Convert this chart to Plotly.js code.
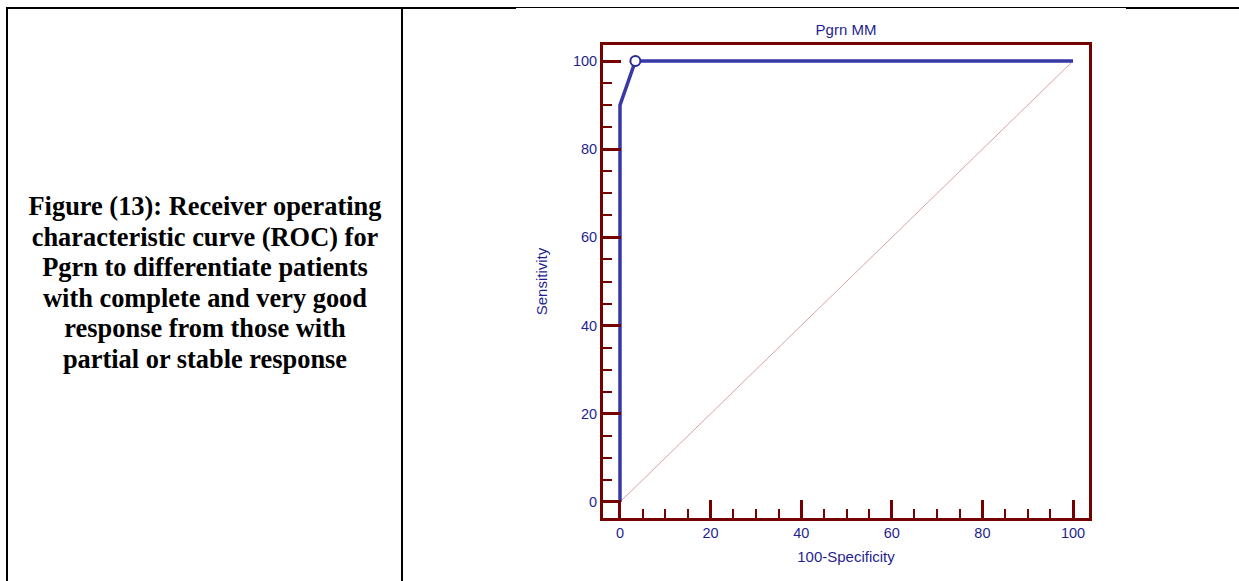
<!DOCTYPE html>
<html>
<head>
<meta charset="utf-8">
<script src="https://cdn.plot.ly/plotly-3.0.1.min.js"></script>
<style>
  html, body { margin: 0; padding: 0; background: #fff; }
  #wrap { position: relative; width: 1239px; height: 581px; overflow: hidden; }
  #chart { position: absolute; left: 0; top: 0; width: 1239px; height: 581px; }
  .ln { position: absolute; background: #000; }
  #caption {
    position: absolute; left: 8px; width: 394px; top: 191px;
    font-family: "Liberation Serif", "Times New Roman", serif;
    font-weight: bold; font-size: 26.4px; line-height: 30.6px;
    text-align: center; color: #000;
  }
</style>
</head>
<body>
<div id="wrap">
  <div id="chart"></div>
  <div class="ln" style="left:6px;top:7px;width:510px;height:2px;"></div>
  <div class="ln" style="left:516px;top:7px;width:610px;height:1px;"></div>
  <div class="ln" style="left:1126px;top:7px;width:113px;height:2px;"></div>
  <div class="ln" style="left:6px;top:7px;width:2px;height:574px;"></div>
  <div class="ln" style="left:401px;top:7px;width:2px;height:574px;"></div>
  <div id="caption">Figure (13): Receiver operating<br>characteristic curve (ROC) for<br>Pgrn to differentiate patients<br>with complete and very good<br>response from those with<br>partial or stable response</div>
</div>
<script>
// ROC curve data (100-Specificity vs Sensitivity)
var fpr = [0, 0, 3.4, 100];
var sensitivity = [0, 90, 100, 100];
// Criterion (optimal cut-off) point
var critX = [3.4];
var critY = [100];
// Reference diagonal
var diagX = [0, 100];
var diagY = [0, 100];
var tickVals = [0, 20, 40, 60, 80, 100];
var tickText = ['0', '20', '40', '60', '80', '100'];

var frameColor = '#740000';
var textColor = '#1f1f8f';
var fontFam = 'Liberation Sans, Arial, sans-serif';

var traces = [
  { x: diagX, y: diagY, mode: 'lines', line: { color: '#d9a3a3', width: 1 }, hoverinfo: 'skip' },
  { x: fpr, y: sensitivity, mode: 'lines', line: { color: '#3838a6', width: 3.5 } },
  { x: critX, y: critY, mode: 'markers',
    marker: { symbol: 'circle', size: 10, color: '#ffffff', line: { color: '#2a2a98', width: 2 } } }
];

var axisCommon = {
  showgrid: false, zeroline: false,
  showline: true, linecolor: frameColor, linewidth: 3, mirror: true,
  ticks: 'inside', ticklen: 18, tickwidth: 3, tickcolor: frameColor,
  tickmode: 'array',
  tickfont: { family: fontFam, size: 14.5, color: textColor },
  fixedrange: true, automargin: false
};
var minorCommon = { dtick: 5, tick0: 0, ticks: 'inside', ticklen: 9, tickwidth: 2, tickcolor: frameColor, showgrid: false };

var xaxis = Object.assign({}, axisCommon, {
  range: [-3.75, 103.53], tickvals: tickVals, ticktext: tickText,
  minor: Object.assign({}, minorCommon),
  title: { text: '100-Specificity', font: { family: fontFam, size: 15, color: textColor }, standoff: 12 }
});
var yaxis = Object.assign({}, axisCommon, {
  range: [-3.63, 103.63], tickvals: tickVals, ticktext: tickText,
  minor: Object.assign({}, minorCommon),
  title: { text: 'Sensitivity', font: { family: fontFam, size: 15, color: textColor }, standoff: 22 }
});

var layout = {
  width: 1239, height: 581,
  margin: { l: 603, r: 150, t: 45, b: 63, pad: 0 },
  paper_bgcolor: 'rgba(0,0,0,0)', plot_bgcolor: '#ffffff',
  showlegend: false,
  title: { text: 'Pgrn MM', font: { family: fontFam, size: 15, color: textColor },
           x: 0.5, xref: 'paper', y: 1, yref: 'paper', yanchor: 'bottom', pad: { b: 10 } },
  xaxis: xaxis, yaxis: yaxis
};

Plotly.newPlot('chart', traces, layout, { staticPlot: true, displayModeBar: false });
</script>
</body>
</html>
